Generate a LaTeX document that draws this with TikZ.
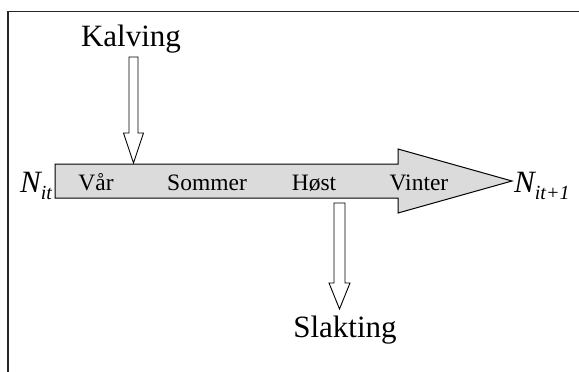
\documentclass[tikz,border=0pt]{standalone}
\usepackage{fontspec}
\setmainfont{Liberation Serif}
\begin{document}
\begin{tikzpicture}[x=1pt,y=-1pt,
  bigarrow/.style={draw=black,line width=1pt,fill=black!14,line join=miter},
  flowarrow/.style={draw=black,line width=0.9pt,fill=white,line join=miter},
  season/.style={font=\fontsize{23.5}{25}\selectfont,anchor=base,inner sep=0pt},
  event/.style={font=\fontsize{31}{33}\selectfont,anchor=base,inner sep=0pt},
  stock/.style={font=\fontsize{31}{33}\selectfont\itshape,anchor=base west,inner sep=0pt}]
\useasboundingbox (0,0) rectangle (579,372);
% frame lines
\draw[line width=1.3pt,black!85] (8,372) -- (8,11.5) -- (579,11.5);
% main year arrow
\draw[bigarrow] (55,164) -- (398,164) -- (398,149) -- (512,181) -- (398,213)
  -- (398,198) -- (55,198) -- cycle;
% calving inflow
\draw[flowarrow] (129,57) -- (138,57) -- (138,133) -- (143.5,133) -- (133.5,163)
  -- (123.5,133) -- (129,133) -- cycle;
% slaughter outflow
\draw[flowarrow] (334,203) -- (345,203) -- (345,283) -- (350,283) -- (339.5,309)
  -- (329,283) -- (334,283) -- cycle;
% labels
\node[event] (kalv) at (131,46) {Kalving};
\node[event] (slakt) at (345,337) {Slakting};
\node[season] (vaar) at (96,190) {Vår};
\node[season] (sommer) at (207,190) {Sommer};
\node[season] (host) at (314,190) {Høst};
\node[season] (vinter) at (419,190) {Vinter};
\node[stock] (n0) at (20,192) {N\raisebox{-7pt}{\fontsize{20}{22}\selectfont it}};
\node[stock] (n1) at (514,192) {N\raisebox{-7pt}{\fontsize{20}{22}\selectfont it+1}};
\end{tikzpicture}
\end{document}
